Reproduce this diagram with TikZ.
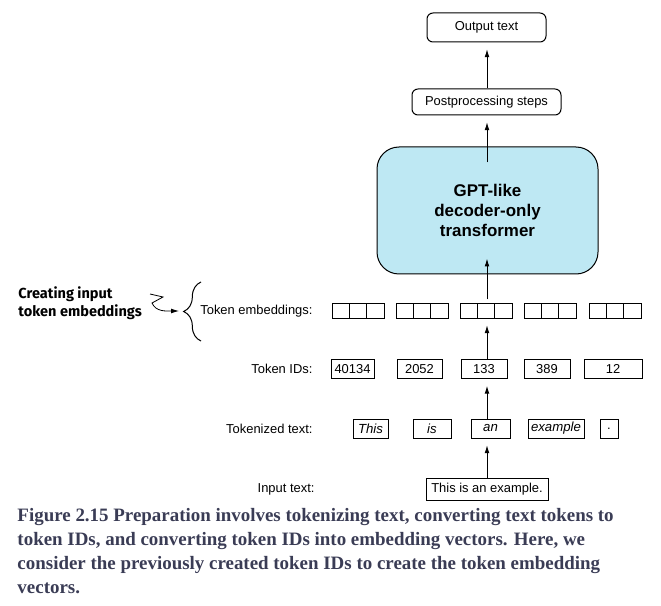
\documentclass[tikz,border=0pt]{standalone}
\usepackage{fontspec}
\setmainfont{Liberation Sans}
\newfontfamily\captionfont{Liberation Serif}
\newfontfamily\notefont{Fira Sans}
\usetikzlibrary{arrows.meta,decorations.pathreplacing}
\definecolor{gptblue}{RGB}{190,232,243}
\definecolor{captiongray}{RGB}{58,60,85}

\begin{document}
\begin{tikzpicture}[x=0.75pt,y=-0.75pt,>={Latex[length=6pt,width=3.6pt]},line width=0.75pt,
    font=\fontsize{9.7}{11.6}\selectfont,
    box/.style 2 args={draw,inner sep=0pt,minimum width=#1*0.75pt,minimum height=#2*0.75pt},
    roundbox/.style 2 args={box={#1}{#2},rounded corners=4.5pt},
    cell/.style={box={17.3}{14}},
    tok/.style={font=\fontsize{9.9}{11.6}\selectfont\itshape},
    rowlabel/.style={anchor=east,inner sep=0pt},
    gap/.style={shorten >=5pt}]
  \useasboundingbox (0,0) rectangle (661,606);

  % model and output
  \path (486.5,27.5) node[roundbox={119}{29}](out){Output text};
  \path (486.5,102) node[roundbox={149}{26}](post){Postprocessing steps};
  \path (487.5,210.5) node[box={221}{127},fill=gptblue,rounded corners=16.5pt,align=center,
      font=\fontsize{12.7}{15}\selectfont\bfseries](gpt){GPT-like\\decoder-only\\transformer};

  % row labels
  \path (313,311) node[rowlabel](lemb){Token embeddings:}
        (313,369) node[rowlabel](lids){Token IDs:}
        (313,428.5) node[rowlabel](ltok){Tokenized text:}
        (315,489) node[rowlabel](linp){Input text:};

  % embedding vectors, three cells each
  \foreach \g/\x in {1/332.3,2/396.3,3/460.3,4/524.3,5/589.3}
    \foreach \c in {0,1,2}
      \path (\x+8.65+\c*17.3,311) node[cell](e\g\c){};

  \path (352.5,369) node[box={43}{19}](id1){40134}
        (419.5,369) node[box={45}{19}](id2){2052}
        (484,369) node[box={46}{19}](id3){133}
        (547,369) node[box={46}{19}](id4){389}
        (613,369) node[box={58}{19}](id5){12};

  \path (370.5,428.5) node[box={35}{19},tok](t1){This}
        (432,428.5) node[box={38}{19},tok](t2){is}
        (490.5,428.5) node[box={39}{19},tok](t3){an}
        (556,428.5) node[box={56}{19},tok](t4){example}
        (609,428.5) node[box={18}{19}](t5){.};

  \path (487,489) node[box={122}{22}](inp){This is an example.};

  % flow upwards
  \coordinate (axis) at (487,0);
  \draw[->,gap] (axis |- inp.north) -- (axis |- t3.south);
  \draw[->,gap] (axis |- t3.north) -- (axis |- id3.south);
  \draw[->,gap] (axis |- id3.north) -- (axis |- e31.south);
  \draw[->] ([yshift=3pt]axis |- e31.north) -- ([yshift=12pt]axis |- gpt.south);
  \draw[->,gap] ([yshift=-12pt]axis |- gpt.north) -- (axis |- post.south);
  \draw[->,gap] (axis |- post.north) -- (axis |- out.south);

  % side note with brace
  \path (18,303) node[anchor=west,align=left,inner sep=0pt,
      font=\notefont\bfseries\fontsize{10.9}{13.5}\selectfont](note){Creating input\\token embeddings};
  \coordinate (bb) at (201,341);
  \coordinate (bt) at (201,282);
  \coordinate (zs) at (150,294);
  \coordinate (btip) at (179,311);
  \draw[decorate,decoration={brace,amplitude=13pt}] (bb) -- (bt);
  \draw[->,line width=0.6pt] (zs) -- (163,297) -- (152,303) .. controls (156,312) and (166,311) .. (btip);

  % caption
  \path (17,551) node[anchor=west,align=left,inner sep=0pt,text=captiongray,
      font=\captionfont\bfseries\fontsize{14.2}{18}\selectfont](cap){Figure 2.15 Preparation involves tokenizing text, converting text tokens to\\
      token IDs, and converting token IDs into embedding vectors. Here, we\\
      consider the previously created token IDs to create the token embedding\\
      vectors.};
\end{tikzpicture}
\end{document}
